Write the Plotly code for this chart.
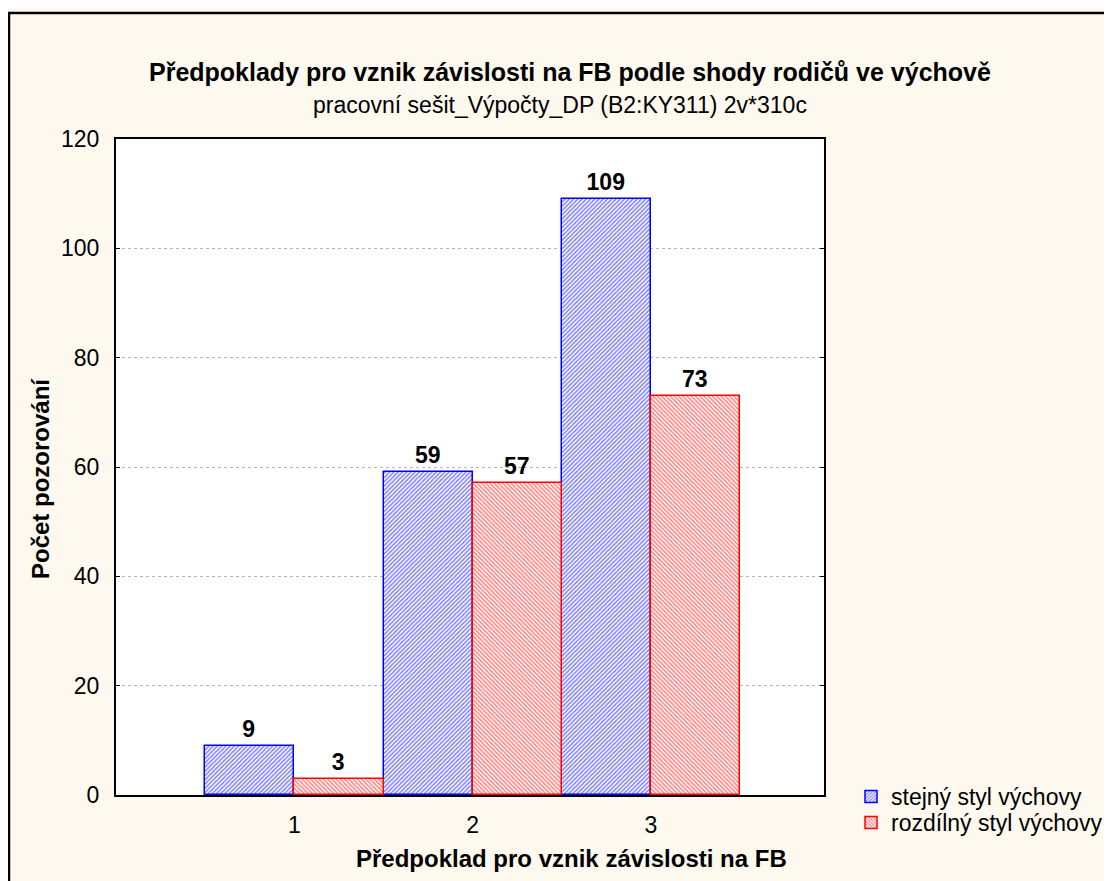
import plotly.graph_objects as go

categories = [1, 2, 3]
series_names = ["stejný styl výchovy", "rozdílný styl výchovy"]
same_style = [9, 59, 109]
diff_style = [3, 57, 73]
y_ticks = [0, 20, 40, 60, 80, 100, 120]

title = "Předpoklady pro vznik závislosti na FB podle shody rodičů ve výchově"
subtitle = "pracovní sešit_Výpočty_DP (B2:KY311) 2v*310c"
x_title = "Předpoklad pro vznik závislosti na FB"
y_title = "Počet pozorování"

FONT = "Liberation Sans, Arial, sans-serif"
W, H = 1112, 881
OFF = 8  # page body margin
L, R, T, B = 116 - OFF, 824 - OFF, 139 - OFF, 795 - OFF


def px(x):
    return (x - OFF - L) / (R - L)


def py(y):
    return (B - (y - OFF)) / (B - T)


def lbl(vals):
    return ["<b>%d</b>" % v for v in vals]


fig = go.Figure()
fig.add_trace(go.Bar(
    x=categories, y=same_style, name=series_names[0], legend="legend",
    marker=dict(color="white", line=dict(color="#0000FF", width=1.5),
                pattern=dict(shape="/", fgcolor="#0000FF", bgcolor="white", size=3, solidity=0.5)),
    text=lbl(same_style), textposition="outside",
    textfont=dict(family=FONT, size=23, color="black"),
    cliponaxis=False,
))
fig.add_trace(go.Bar(
    x=categories, y=diff_style, name=series_names[1], legend="legend2",
    marker=dict(color="white", line=dict(color="#FF0000", width=1.5),
                pattern=dict(shape="\\", fgcolor="#FF0000", bgcolor="white", size=3, solidity=0.5)),
    text=lbl(diff_style), textposition="outside",
    textfont=dict(family=FONT, size=23, color="black"),
    cliponaxis=False,
))

leg_common = dict(xanchor="left", yanchor="top", bgcolor="rgba(0,0,0,0)",
                  font=dict(family=FONT, size=23), itemwidth=30)

fig.update_layout(
    width=W, height=H,
    margin=dict(l=L, r=W - R, t=T, b=H - B, autoexpand=False),
    paper_bgcolor="#FDF9EE",
    plot_bgcolor="white",
    barmode="group", bargap=0, bargroupgap=0,
    font=dict(family=FONT, size=24, color="black"),
    showlegend=True,
    legend=dict(x=px(851), y=py(775), **leg_common),
    legend2=dict(x=px(851), y=py(801), **leg_common),
    xaxis=dict(range=[0.0, 3.97], tickvals=categories, ticktext=[str(c) for c in categories],
               showgrid=False, zeroline=False, showline=True, linecolor="black", linewidth=2,
               mirror=True, ticks="", ticklabelstandoff=8,
               tickfont=dict(family=FONT, size=23)),
    yaxis=dict(range=[0, 120], tickvals=y_ticks, showgrid=True, gridcolor="#b4b4b4",
               griddash="dot", gridwidth=1, zeroline=False, showline=True, linecolor="black",
               linewidth=2, mirror="ticks", ticks="inside", ticklen=4, tickcolor="black",
               ticklabelstandoff=10, tickfont=dict(family=FONT, size=23)),
    annotations=[
        dict(text="<b>" + title + "</b>", x=px(570), y=py(72), xref="paper", yref="paper",
             showarrow=False, font=dict(family=FONT, size=25), xanchor="center", yanchor="middle"),
        dict(text=subtitle, x=px(560), y=py(105), xref="paper", yref="paper",
             showarrow=False, font=dict(family=FONT, size=23), xanchor="center", yanchor="middle"),
        dict(text="<b>" + x_title + "</b>", x=px(571), y=py(858), xref="paper", yref="paper",
             showarrow=False, font=dict(family=FONT, size=24), xanchor="center", yanchor="middle"),
        dict(text="<b>" + y_title + "</b>", x=px(40), y=py(479), xref="paper", yref="paper",
             showarrow=False, font=dict(family=FONT, size=24), textangle=-90,
             xanchor="center", yanchor="middle"),
    ],
    shapes=[
        dict(type="rect", xref="paper", yref="paper", x0=px(9), y0=py(920), x1=px(1150), y1=py(13),
             line=dict(color="black", width=2.5), fillcolor="rgba(0,0,0,0)", layer="below"),
    ],
)

fig.write_html("out.html")
